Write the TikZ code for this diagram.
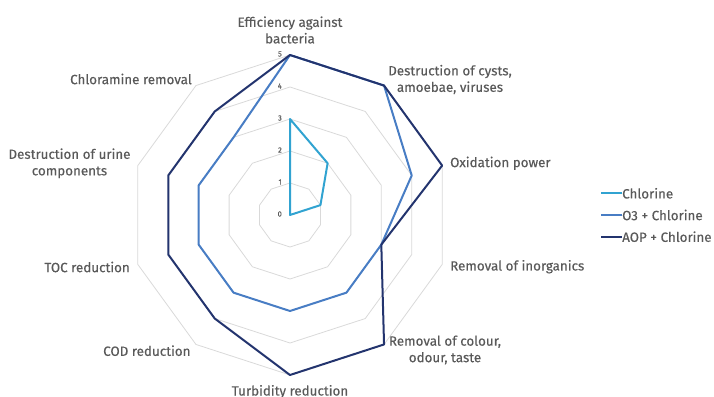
\documentclass[tikz,border=0pt]{standalone}
\usepackage{fontspec}
\setmainfont{Fira Sans}
\newfontfamily\chartfont{Fira Sans}[FakeBold=0.3]
\usetikzlibrary{positioning}
\definecolor{gridgray}{RGB}{217,217,217}
\definecolor{labelgray}{RGB}{89,89,89}
\definecolor{chlorine}{RGB}{49,163,209}
\definecolor{ozone}{RGB}{72,125,196}
\definecolor{aop}{RGB}{35,52,110}

\begin{document}
\begin{tikzpicture}[x=1pt,y=1pt,
    grid/.style={draw=gridgray,line width=0.8pt},
    series/.style={line width=2pt,line join=round},
    axislabel/.style={text=labelgray,font=\chartfont\fontsize{13.4}{16.5}\selectfont,align=center,inner sep=0pt},
    ticklabel/.style={text=labelgray,font=\chartfont\fontsize{7.5}{8}\selectfont,inner sep=0pt,anchor=east}]
  \useasboundingbox (-290,-181) rectangle (424,215);
  % grid rings
  \foreach \r in {1,...,5}
    \draw[grid] (90:32*\r) \foreach \k in {1,...,9} { -- ({90-36*\k}:32*\r) } -- cycle;
  \foreach \r in {0,...,5}
    \node[ticklabel] (tick\r) at (-8,32*\r+1) {\r};

  % data points
  \foreach \v [count=\k from 0] in {3,2,1,0,0,0,0,0,0,0}
    \coordinate (chl\k) at ({90-36*\k}:32*\v);
  \foreach \v [count=\k from 0] in {5,5,4,3,3,3,3,3,3,3}
    \coordinate (ozo\k) at ({90-36*\k}:32*\v);
  \foreach \v [count=\k from 0] in {5,5,5,3,5,5,4,4,4,4}
    \coordinate (aop\k) at ({90-36*\k}:32*\v);

  \draw[series,chlorine] (chl0) \foreach \k in {1,...,9} { -- (chl\k) } -- cycle;
  \draw[series,ozone] (ozo0) \foreach \k in {1,...,9} { -- (ozo\k) } -- cycle;
  \draw[series,aop] (aop0) \foreach \k in {1,...,9} { -- (aop\k) } -- cycle;

  % axis labels
  \node[axislabel] (lab0) at (0,185) {Efficiency against\\bacteria};
  \node[axislabel] (lab1) at (160,135.5) {Destruction of cysts,\\amoebae, viruses};
  \node[axislabel,anchor=west] (lab2) at (160,51.7) {Oxidation power};
  \node[axislabel,anchor=west] (lab3) at (160,-51.7) {Removal of inorganics};
  \node[axislabel] (lab4) at (155,-135) {Removal of colour,\\odour, taste};
  \node[axislabel] (lab5) at (0,-176.7) {Turbidity reduction};
  \node[axislabel,anchor=east] (lab6) at (-99.3,-135.7) {COD reduction};
  \node[axislabel,anchor=east] (lab7) at (-160,-52) {TOC reduction};
  \node[axislabel,anchor=east] (lab8) at (-159.3,51.7) {Destruction of urine\\components};
  \node[axislabel,anchor=east] (lab9) at (-98,136) {Chloramine removal};

  % legend
  \foreach \s/\lbl [count=\i from 0] in {chlorine/Chlorine,ozone/O3 + Chlorine,aop/AOP + Chlorine} {
    \coordinate (leg\i) at (311,21.7-21.7*\i);
    \node[axislabel,anchor=west] (legtext\i) at (332,21.7-21.7*\i) {\lbl};
    \draw[series,\s] (leg\i) -- (legtext\i.west);
  }
\end{tikzpicture}
\end{document}
